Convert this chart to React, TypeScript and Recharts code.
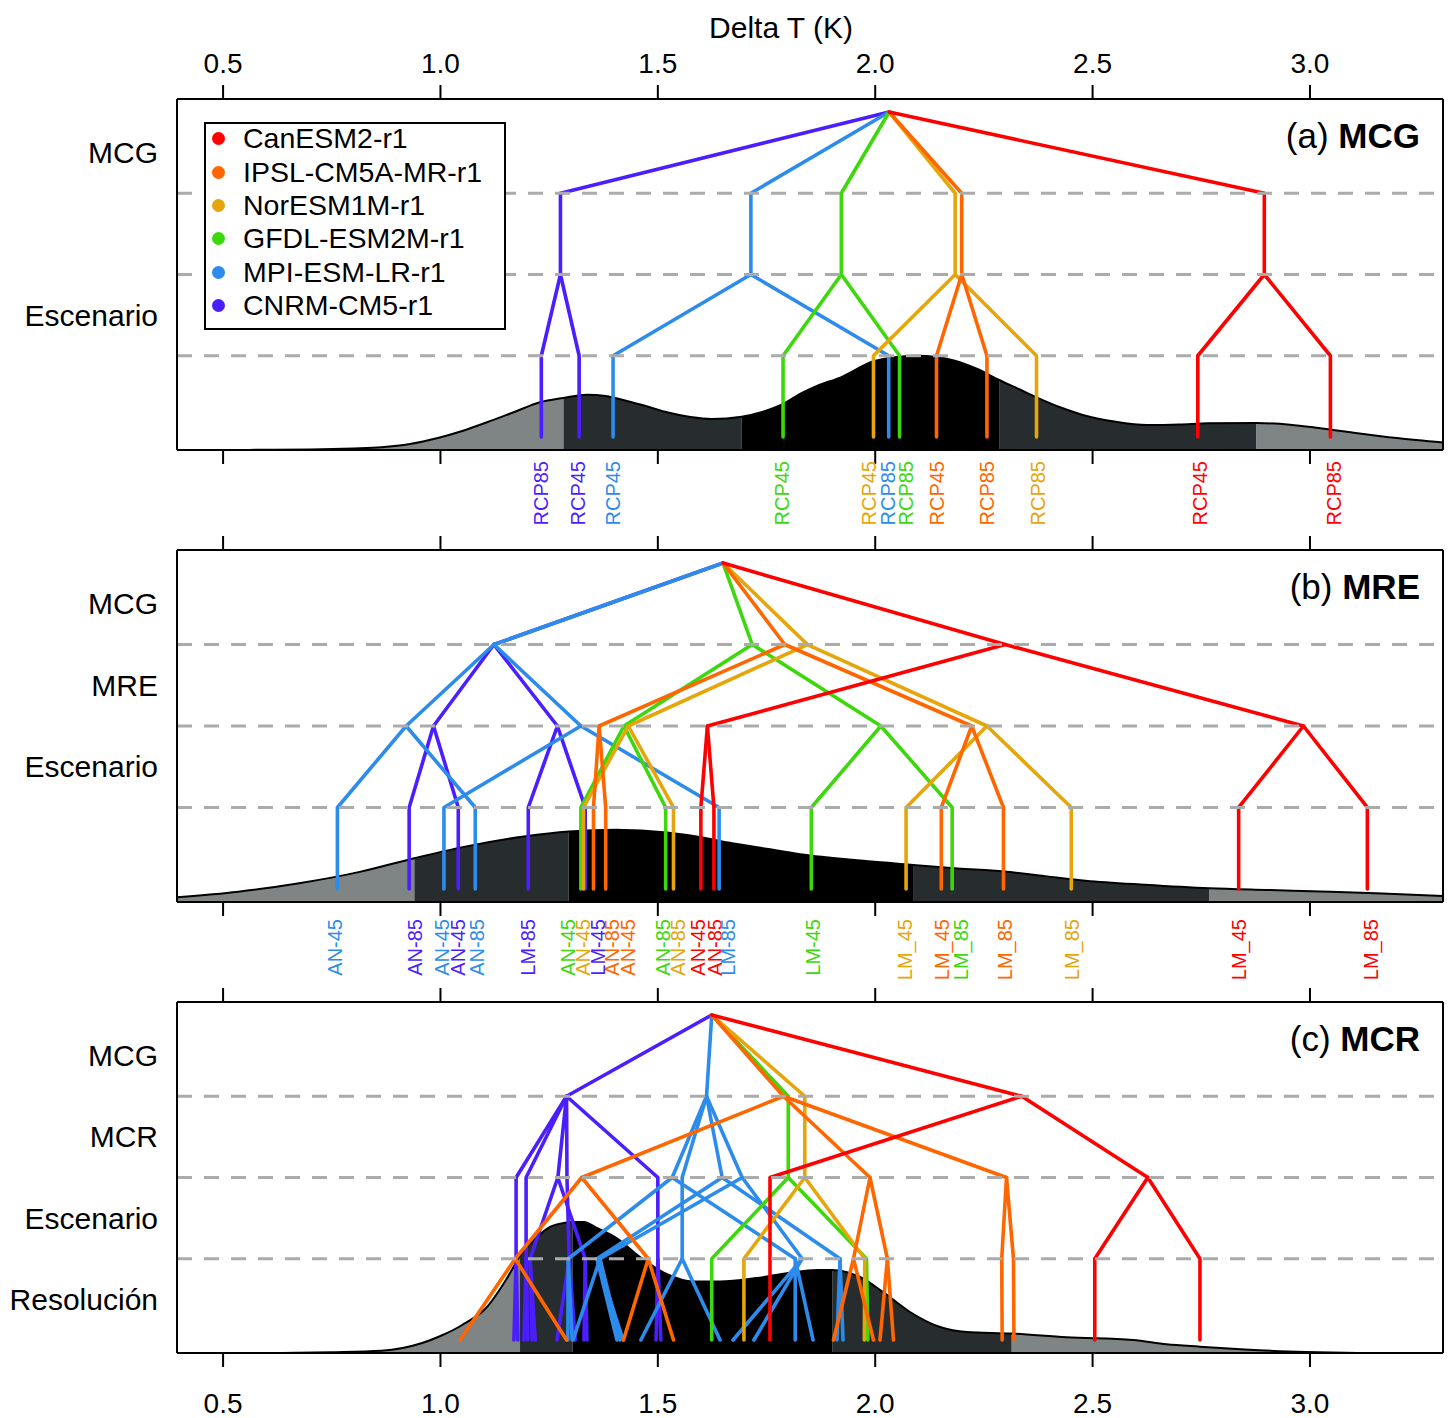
import React from "react";
import { ComposedChart, Line, Area, XAxis, YAxis, ReferenceLine, Legend } from "recharts";

const FONT = "'Liberation Sans', Arial, Helvetica, sans-serif";

// ---------- categories ----------
const MODELS = ["CanESM2-r1", "IPSL-CM5A-MR-r1", "NorESM1M-r1", "GFDL-ESM2M-r1", "MPI-ESM-LR-r1", "CNRM-CM5-r1"];
const MODEL_COLORS = ["#FF0000", "#FF6600", "#E6A50A", "#3DD80B", "#2D8CEB", "#4B1EFF"];
const DRAW_ORDER = [5, 4, 3, 2, 1, 0];

const X_DOMAIN: [number, number] = [0.394, 3.306];
const X_TICKS = [0.5, 1.0, 1.5, 2.0, 2.5, 3.0];
const X_TITLE = "Delta T (K)";
const BAND_FILLS = ["#7f8484", "#272d2e", "#000000", "#272d2e", "#7f8484"];

// ---------- panel (a) MCG ----------
const A_ROOT = 2.032;
const A_GCM = [2.895, 2.199, 2.184, 1.922, 1.714, 1.276];
const A_SCEN = [[2.742, 3.047], [2.141, 2.257], [1.996, 2.371], [1.788, 2.056], [1.397, 2.031], [1.232, 1.319]];
const A_LEVELS = ["MCG", "Escenario"];
const A_LEVEL_Y = [3.5, 1.5];
const A_LAB_X = [1.2314, 1.3165, 1.397, 1.7856, 1.9857, 2.0294, 2.0708, 2.142, 2.257, 2.3744, 2.747, 3.055];
const A_LAB_TEXT = ["RCP85", "RCP45", "RCP45", "RCP45", "RCP45", "RCP85", "RCP85", "RCP45", "RCP85", "RCP85", "RCP45", "RCP85"];
const A_LAB_MODEL = [5, 5, 4, 3, 2, 4, 3, 1, 1, 2, 0, 0];
const A_DENS_X = [0.394, 0.55, 0.7, 0.8, 0.864, 0.93, 0.994, 1.05, 1.107, 1.17, 1.229, 1.283, 1.337, 1.38, 1.427, 1.48, 1.521, 1.575, 1.624, 1.693, 1.74, 1.788, 1.827, 1.866, 1.921, 1.996, 2.05, 2.098, 2.14, 2.183, 2.235, 2.285, 2.33, 2.371, 2.43, 2.484, 2.55, 2.625, 2.7, 2.766, 2.876, 2.954, 3.02, 3.094, 3.2, 3.306];
const A_DENS = [0, 0.001, 0.005, 0.015, 0.027, 0.06, 0.12, 0.19, 0.277, 0.38, 0.477, 0.52, 0.553, 0.54, 0.493, 0.43, 0.377, 0.33, 0.31, 0.333, 0.38, 0.46, 0.56, 0.64, 0.727, 0.887, 0.93, 0.943, 0.93, 0.893, 0.81, 0.7, 0.61, 0.527, 0.42, 0.343, 0.285, 0.25, 0.255, 0.267, 0.27, 0.253, 0.22, 0.177, 0.12, 0.075];
const A_BANDS = [1.283, 1.693, 2.285, 2.876];

// ---------- panel (b) MRE ----------
const B_ROOT = 1.65;
const B_GCM = [2.299, 1.792, 1.844, 1.717, 1.123, 1.123];
const B_RCM = [[1.614, 2.985], [1.365, 2.222], [1.432, 2.257], [1.422, 2.013], [0.921, 1.323], [0.984, 1.269]];
const B_SCEN = [
  [[1.599, 1.629], [2.836, 3.132]],
  [[1.352, 1.38], [2.152, 2.295]],
  [[1.329, 1.536], [2.071, 2.451]],
  [[1.323, 1.518], [1.853, 2.177]],
  [[0.763, 1.08], [1.008, 1.641]],
  [[0.928, 1.041], [1.202, 1.333]],
];
const B_LEVELS = ["MCG", "MRE", "Escenario"];
const B_LEVEL_Y = [3.5, 2.5, 1.5];
const B_LAB_X = [0.757, 0.941, 1.003, 1.04, 1.083, 1.201, 1.293, 1.328, 1.362, 1.395, 1.431, 1.512, 1.546, 1.593, 1.631, 1.661, 1.857, 2.068, 2.154, 2.197, 2.298, 2.453, 2.837, 3.14];
const B_LAB_TEXT = ["AN-45", "AN-85", "AN-45", "AN-45", "AN-85", "LM-85", "AN-45", "AN-45", "LM-45", "AN-85", "AN-45", "AN-85", "AN-85", "AN-45", "AN-85", "LM-85", "LM-45", "LM_45", "LM_45", "LM_85", "LM_85", "LM_85", "LM_45", "LM_85"];
const B_LAB_MODEL = [4, 5, 4, 5, 4, 5, 3, 2, 5, 1, 1, 3, 2, 0, 0, 4, 3, 2, 1, 3, 1, 2, 0, 0];
const B_DENS_X = [0.394, 0.535, 0.675, 0.817, 0.94, 1.051, 1.192, 1.295, 1.403, 1.521, 1.6, 1.662, 1.75, 1.827, 1.967, 2.087, 2.19, 2.296, 2.39, 2.484, 2.62, 2.769, 2.9, 3.047, 3.18, 3.306];
const B_DENS = [0.047, 0.103, 0.187, 0.303, 0.437, 0.547, 0.653, 0.703, 0.72, 0.693, 0.645, 0.593, 0.53, 0.477, 0.413, 0.37, 0.335, 0.303, 0.258, 0.213, 0.172, 0.137, 0.12, 0.103, 0.082, 0.06];
const B_BANDS = [0.94, 1.295, 2.087, 2.769];

// ---------- panel (c) MCR ----------
const C_ROOT = 1.624;
const C_GCM = [2.337, 1.789, 1.838, 1.8, 1.612, 1.29];
const C_RCM = [
  [1.758, 2.627],
  [1.325, 1.988, 2.302],
  [1.838],
  [1.8],
  [1.533, 1.556, 1.648, 1.694],
  [1.174, 1.197, 1.27, 1.291, 1.5],
];
const C_SCEN = [
  [[1.758], [2.505, 2.747]],
  [[1.172, 1.478], [1.95, 2.028], [2.291, 2.318]],
  [[1.698, 1.976]],
  [[1.624, 1.98]],
  [[1.294, 1.816], [1.556], [1.36, 1.919], [1.367, 1.832]],
  [[1.174], [1.197], [1.206, 1.333], [1.296], [1.5]],
];
const C_RES = [
  [[[1.758]], [[2.505], [2.747]]],
  [[[1.045, 1.29], [1.421, 1.536]], [[1.904, 1.996], [2.011, 2.042]], [[2.292], [2.319]]],
  [[[1.698], [1.975]]],
  [[[1.624], [1.983]]],
  [[[1.293, 1.303], [1.816, 1.857]], [[1.461, 1.643]], [[1.406, 1.42], [1.912, 1.926]], [[1.305, 1.413], [1.673, 1.721]]],
  [[[1.169, 1.178]], [[1.192, 1.201]], [[1.211, 1.218], [1.33, 1.337]], [[1.268, 1.31]], [[1.496, 1.507]]],
];
const C_LEVELS = ["MCG", "MCR", "Escenario", "Resolución"];
const C_LEVEL_Y = [3.5, 2.5, 1.5, 0.5];
const C_DENS_X = [0.394, 0.6, 0.75, 0.864, 0.958, 1.0, 1.05, 1.107, 1.152, 1.183, 1.22, 1.252, 1.283, 1.304, 1.33, 1.36, 1.405, 1.459, 1.52, 1.581, 1.643, 1.727, 1.8, 1.866, 1.901, 1.965, 2.018, 2.08, 2.149, 2.21, 2.314, 2.44, 2.593, 2.67, 2.747, 2.85, 2.95, 3.05, 3.15, 3.306];
const C_DENS = [0, 0, 0.008, 0.023, 0.1, 0.17, 0.28, 0.46, 0.74, 0.97, 1.15, 1.26, 1.3, 1.31, 1.31, 1.25, 1.15, 0.96, 0.79, 0.715, 0.715, 0.75, 0.8, 0.83, 0.83, 0.76, 0.61, 0.41, 0.26, 0.21, 0.195, 0.157, 0.13, 0.087, 0.063, 0.035, 0.015, 0.005, 0, 0];
const C_BANDS = [1.183, 1.304, 1.901, 2.314];

// ---------- tree helpers ----------
type Pt = { x: number; y: number };
type TNode = { x: number; children: TNode[] };
type Path = { color: string; pts: Pt[] };

const mk = (x: number, children: TNode[] = []): TNode => ({ x, children });

function walk(node: TNode, level: number, path: Pt[], color: string, out: Path[]) {
  const pt = { x: node.x, y: level };
  path.push(pt);
  node.children.forEach((c, i) => {
    if (i === 0) walk(c, level - 1, path, color, out);
    else {
      const p: Pt[] = [pt];
      out.push({ color, pts: p });
      walk(c, level - 1, p, color, out);
    }
  });
}

function treePaths(root: number, gcms: TNode[]): Path[] {
  const out: Path[] = [];
  DRAW_ORDER.forEach((m) => {
    const color = MODEL_COLORS[m];
    const start: Pt[] = [{ x: root, y: 4 }];
    out.push({ color, pts: start });
    walk(gcms[m], 3, start, color, out);
  });
  return out;
}

const TREE_A = A_GCM.map((g, m) => mk(g, [mk(g, A_SCEN[m].map((s) => mk(s, [mk(s)])))]));
const TREE_B = B_GCM.map((g, m) => mk(g, B_RCM[m].map((r, k) => mk(r, B_SCEN[m][k].map((s) => mk(s, [mk(s)]))))));
const TREE_C = C_GCM.map((g, m) =>
  mk(g, C_RCM[m].map((r, k) => mk(r, C_SCEN[m][k].map((s, j) => mk(s, C_RES[m][k][j].map((l) => mk(l)))))))
);

const PATHS_A = treePaths(A_ROOT, TREE_A);
const PATHS_B = treePaths(B_ROOT, TREE_B);
const PATHS_C = treePaths(C_ROOT, TREE_C);

// ---------- renderers ----------
const AXIS_STYLE = { stroke: "#000", strokeWidth: 2 };

const NoTick = () => <g />;
const TopTick = (p: any) => (
  <text x={p.x} y={p.y - 12} textAnchor="middle" fontFamily={FONT} fontSize={28} fill="#000">
    {Number(p.payload.value).toFixed(1)}
  </text>
);
const BottomTick = (p: any) => (
  <text x={p.x} y={p.y + 46} textAnchor="middle" fontFamily={FONT} fontSize={28} fill="#000">
    {Number(p.payload.value).toFixed(1)}
  </text>
);

const XTitleLabel = (p: any) => {
  const vb = p.viewBox || { x: 177, y: 99, width: 1266 };
  return (
    <text x={vb.x + vb.width / 2 - 29} y={vb.y - 60} textAnchor="middle" fontFamily={FONT} fontSize={30} fill="#000">
      {X_TITLE}
    </text>
  );
};

const PanelTitle = (p: any) => {
  const vb = p.viewBox || { x: 1443, y: 99 };
  return (
    <text x={vb.x - 23} y={vb.y + 49} textAnchor="end" fontFamily={FONT} fontSize={35} fill="#000">
      <tspan>{p.tag} </tspan>
      <tspan fontWeight="bold">{p.name}</tspan>
    </text>
  );
};

const LegendBox = () => (
  <div
    style={{
      width: 302,
      height: 208,
      boxSizing: "border-box",
      border: "2px solid #000",
      background: "#fff",
      fontFamily: FONT,
      fontSize: 28.5,
      color: "#000",
    }}
  >
    <div style={{ marginTop: -2 }}>
      {MODELS.map((m, i) => (
        <div key={m} style={{ display: "flex", alignItems: "center", height: 33.4, whiteSpace: "nowrap" }}>
          <span
            style={{
              display: "inline-block",
              width: 13,
              height: 13,
              borderRadius: "50%",
              background: MODEL_COLORS[i],
              marginLeft: 6,
              marginRight: 18,
            }}
          />
          <span>{m}</span>
        </div>
      ))}
    </div>
  </div>
);

type PanelProps = {
  top: number;
  height: number;
  plotTop: number;
  plotBottom: number;
  densX: number[];
  dens: number[];
  bands: number[];
  paths: Path[];
  levelNames: string[];
  levelY: number[];
  tag: string;
  name: string;
  labX?: number[];
  labText?: string[];
  labModel?: number[];
  labOffset?: number;
  topLabels?: boolean;
  bottomLabels?: boolean;
  xTitle?: boolean;
  legend?: boolean;
};

function Panel(props: PanelProps) {
  const hasLab = !!props.labX;
  const nBottom = hasLab ? 2 : 1;
  const mTop = props.plotTop - props.top - 1;
  const mBottom = props.top + props.height - props.plotBottom - nBottom;
  const dens = props.densX.map((x, i) => ({ x, d: props.dens[i] }));
  const edges = [X_DOMAIN[0], ...props.bands, X_DOMAIN[1]];
  const bandData = edges.slice(0, -1).map((lo, i) =>
    dens.filter((p) => p.x >= lo - 1e-9 && p.x <= edges[i + 1] + 1e-9)
  );

  const LevelTick = (p: any) => {
    const i = props.levelY.findIndex((v) => Math.abs(v - p.payload.value) < 1e-9);
    return (
      <text x={p.x} y={p.y + 10.5} textAnchor="end" fontFamily={FONT} fontSize={30} fill="#000">
        {i >= 0 ? props.levelNames[i] : ""}
      </text>
    );
  };

  const LabTick = (p: any) => {
    const xs = props.labX || [];
    const i = xs.findIndex((v) => Math.abs(v - p.payload.value) < 1e-9);
    if (i < 0) return <g />;
    const ty = p.y + (props.labOffset || 10);
    return (
      <text
        transform={`rotate(-90 ${p.x} ${ty})`}
        x={p.x}
        y={ty}
        dy="0.35em"
        textAnchor="end"
        fontFamily={FONT}
        fontSize={20}
        fill={MODEL_COLORS[(props.labModel || [])[i]]}
      >
        {(props.labText || [])[i]}
      </text>
    );
  };

  return (
    <div style={{ position: "absolute", left: 0, top: props.top }}>
      <ComposedChart width={1456} height={props.height} margin={{ top: mTop, right: 12, bottom: mBottom, left: 176 }}>
        <XAxis
          xAxisId="top"
          orientation="top"
          type="number"
          dataKey="x"
          domain={X_DOMAIN}
          allowDataOverflow
          ticks={X_TICKS}
          interval={0}
          height={1}
          tickSize={14}
          tickMargin={0}
          axisLine={AXIS_STYLE}
          tickLine={AXIS_STYLE}
          tick={props.topLabels ? TopTick : NoTick}
          label={props.xTitle ? <XTitleLabel /> : undefined}
        />
        <XAxis
          xAxisId="bot"
          orientation="bottom"
          type="number"
          dataKey="x"
          domain={X_DOMAIN}
          allowDataOverflow
          ticks={X_TICKS}
          interval={0}
          height={1}
          tickSize={14}
          tickMargin={0}
          axisLine={AXIS_STYLE}
          tickLine={AXIS_STYLE}
          tick={props.bottomLabels ? BottomTick : NoTick}
        />
        {hasLab && (
          <XAxis
            xAxisId="lab"
            orientation="bottom"
            type="number"
            dataKey="x"
            domain={X_DOMAIN}
            allowDataOverflow
            ticks={props.labX}
            interval={0}
            height={1}
            tickSize={0}
            tickMargin={0}
            axisLine={false}
            tickLine={false}
            tick={LabTick}
          />
        )}
        <YAxis
          yAxisId="t"
          type="number"
          domain={[-0.16, 4.16]}
          allowDataOverflow
          ticks={props.levelY}
          interval={0}
          width={1}
          tickSize={0}
          tickMargin={19}
          axisLine={AXIS_STYLE}
          tickLine={false}
          tick={LevelTick}
        />
        <YAxis
          yAxisId="d"
          orientation="right"
          type="number"
          domain={[0, 3.51]}
          allowDataOverflow
          width={1}
          tick={false}
          tickLine={false}
          axisLine={AXIS_STYLE}
          label={<PanelTitle tag={props.tag} name={props.name} />}
        />
        {bandData.map((data, i) => (
          <Area
            key={`band-${i}`}
            xAxisId="top"
            yAxisId="d"
            data={data}
            dataKey="d"
            type="monotone"
            stroke="none"
            fill={BAND_FILLS[i]}
            fillOpacity={1}
            isAnimationActive={false}
            dot={false}
            activeDot={false}
            legendType="none"
          />
        ))}
        <Line
          xAxisId={hasLab ? "lab" : "top"}
          yAxisId="d"
          data={dens}
          dataKey="d"
          type="monotone"
          stroke="#000"
          strokeWidth={2}
          dot={false}
          activeDot={false}
          isAnimationActive={false}
          legendType="none"
        />
        {props.paths.map((p, i) => (
          <Line
            key={`path-${i}`}
            xAxisId="bot"
            yAxisId="t"
            data={p.pts}
            dataKey="y"
            type="linear"
            stroke={p.color}
            strokeWidth={3.6}
            strokeLinecap="round"
            strokeLinejoin="round"
            dot={false}
            activeDot={false}
            isAnimationActive={false}
            legendType="none"
          />
        ))}
        {[3, 2, 1].map((y) => (
          <ReferenceLine
            key={`ref-${y}`}
            xAxisId="bot"
            yAxisId="t"
            y={y}
            stroke="#ababab"
            strokeWidth={3}
            strokeDasharray="15 12"
          />
        ))}
        {props.legend && (
          <Legend
            content={<LegendBox />}
            layout="vertical"
            align="center"
            verticalAlign="middle"
            wrapperStyle={{ left: 204, top: 122, width: 302, height: 208 }}
          />
        )}
      </ComposedChart>
    </div>
  );
}

export default function App() {
  return (
    <div style={{ position: "absolute", left: 0, top: 0, width: 1456, height: 1418, background: "#fff", overflow: "hidden" }}>
      <Panel
        top={0}
        height={530}
        plotTop={99}
        plotBottom={450}
        densX={A_DENS_X}
        dens={A_DENS}
        bands={A_BANDS}
        paths={PATHS_A}
        levelNames={A_LEVELS}
        levelY={A_LEVEL_Y}
        tag="(a)"
        name="MCG"
        labX={A_LAB_X}
        labText={A_LAB_TEXT}
        labModel={A_LAB_MODEL}
        labOffset={10}
        topLabels
        xTitle
        legend
      />
      <Panel
        top={530}
        height={455}
        plotTop={550}
        plotBottom={902}
        densX={B_DENS_X}
        dens={B_DENS}
        bands={B_BANDS}
        paths={PATHS_B}
        levelNames={B_LEVELS}
        levelY={B_LEVEL_Y}
        tag="(b)"
        name="MRE"
        labX={B_LAB_X}
        labText={B_LAB_TEXT}
        labModel={B_LAB_MODEL}
        labOffset={16}
      />
      <Panel
        top={985}
        height={433}
        plotTop={1002}
        plotBottom={1353}
        densX={C_DENS_X}
        dens={C_DENS}
        bands={C_BANDS}
        paths={PATHS_C}
        levelNames={C_LEVELS}
        levelY={C_LEVEL_Y}
        tag="(c)"
        name="MCR"
        bottomLabels
      />
    </div>
  );
}
